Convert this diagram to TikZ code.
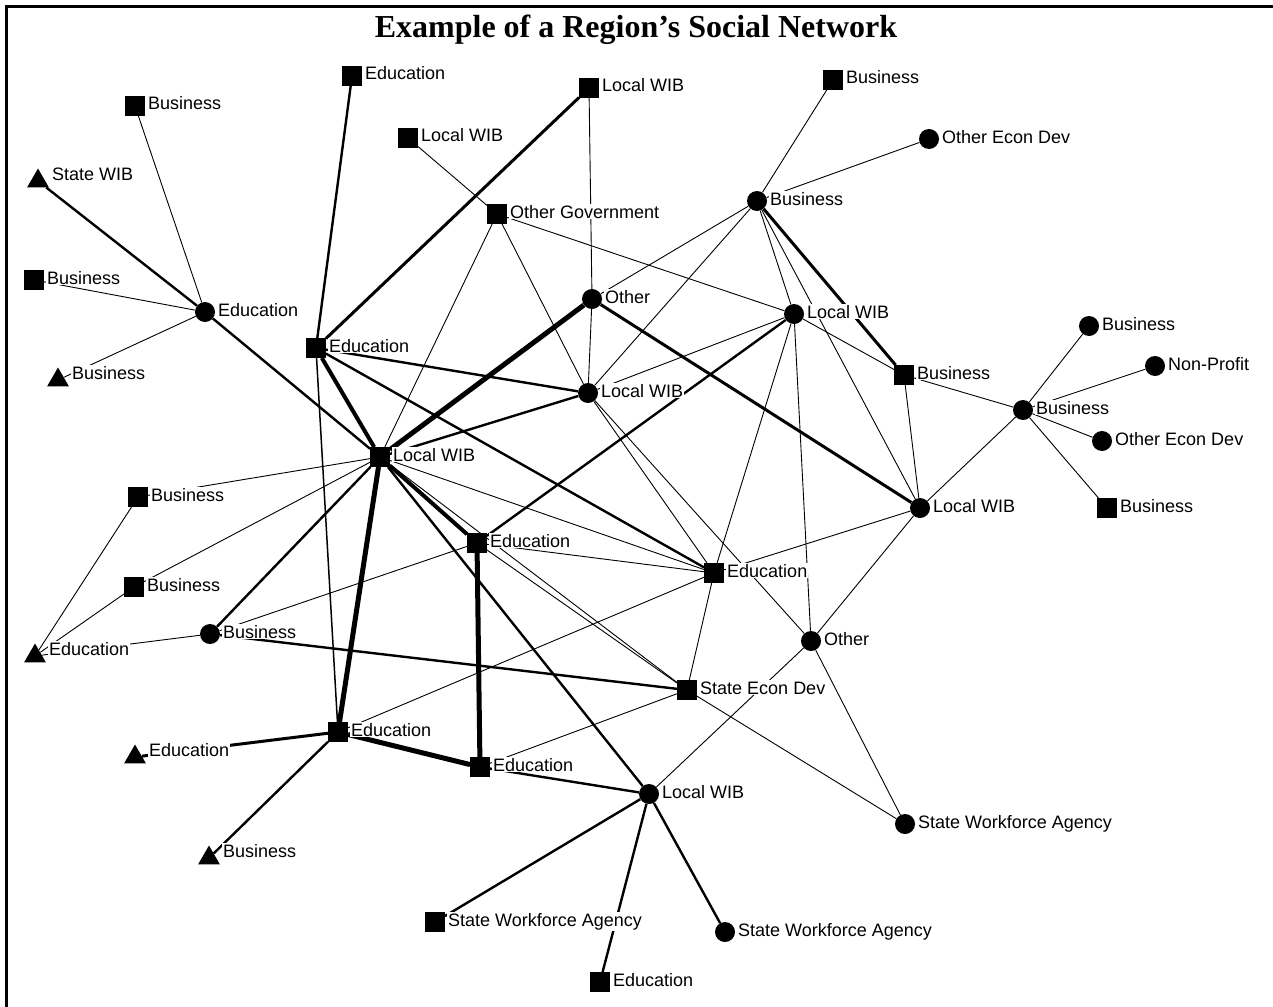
\documentclass[tikz,border=0pt]{standalone}
\usepackage{fontspec}
\setmainfont{Liberation Sans}
\newfontfamily\titlefont{Liberation Serif}
\usetikzlibrary{shapes.geometric}
\pgfdeclarelayer{paper}
\pgfdeclarelayer{edges}
\pgfsetlayers{paper,edges,main}

\tikzset{
  sq/.style={rectangle, fill=black, inner sep=0pt, minimum size=19.5pt},
  dot/.style={circle, fill=black, inner sep=0pt, minimum size=20pt},
  tri/.style={regular polygon, regular polygon sides=3, fill=black, inner sep=0pt,
              minimum size=25pt, yshift=-3pt},
  lab/.style={anchor=base west, fill=white, inner sep=1pt,
              font=\fontsize{18}{18}\selectfont},
  e1/.style={line width=0.9pt},
  e15/.style={line width=1.5pt},
  e2/.style={line width=2.4pt},
  e3/.style={line width=3pt},
  e4/.style={line width=4pt},
  e5/.style={line width=5pt},
}

% actor marker plus its white-backed name tag
\newcommand{\netnode}[5]{%
  \node[#1] (#2) at (#3,#4) {};
  \node[lab] (#2-t) at ([xshift=12pt,yshift=-4pt]#3,#4) {#5};
}
\newcommand{\trinode}[4]{%
  \node[tri] (#1) at (#2,#3) {};
  \node[lab] (#1-t) at ([xshift=13pt,yshift=-2pt]#2,#3) {#4};
}

\begin{document}
\begin{tikzpicture}[x=1pt,y=-1pt]
\useasboundingbox (0,0) rectangle (1273,1006);
\begin{pgfonlayer}{paper}
  \fill[white] (0,0) rectangle (1273,1006);
\end{pgfonlayer}

% frame
\draw[line width=2.5pt] (6.3,1020) -- (6.3,6.3) -- (1290,6.3);

% title
\node[anchor=base, inner sep=0pt, font=\titlefont\bfseries\fontsize{32}{32}\selectfont]
  (title) at (636,38) {Example of a Region’s Social Network};

% actors
\netnode{sq}{n1}{352}{76}{Education}
\netnode{sq}{n2}{589}{88}{Local WIB}
\netnode{sq}{n3}{833}{80}{Business}
\netnode{sq}{n4}{135}{106}{Business}
\netnode{sq}{n5}{408}{138}{Local WIB}
\netnode{dot}{n6}{929}{139}{Other Econ Dev}
\trinode{n7}{38}{178}{State WIB}
\netnode{dot}{n8}{757}{201}{Business}
\netnode{sq}{n9}{497}{214}{Other Government}
\netnode{sq}{n10}{34}{280}{Business}
\netnode{dot}{n11}{205}{312}{Education}
\netnode{dot}{n12}{592}{299}{Other}
\netnode{dot}{n13}{794}{314}{Local WIB}
\netnode{sq}{n14}{316}{348}{Education}
\trinode{n15}{58}{377}{Business}
\netnode{dot}{n16}{588}{393}{Local WIB}
\netnode{sq}{n17}{904}{375}{Business}
\netnode{dot}{n18}{1089}{326}{Business}
\netnode{dot}{n19}{1155}{366}{Non-Profit}
\netnode{dot}{n20}{1023}{410}{Business}
\netnode{dot}{n21}{1102}{441}{Other Econ Dev}
\netnode{sq}{n22}{380}{457}{Local WIB}
\netnode{sq}{n23}{138}{497}{Business}
\netnode{dot}{n24}{920}{508}{Local WIB}
\netnode{sq}{n25}{1107}{508}{Business}
\netnode{sq}{n26}{477}{543}{Education}
\netnode{sq}{n27}{714}{573}{Education}
\netnode{sq}{n28}{134}{587}{Business}
\netnode{dot}{n29}{210}{634}{Business}
\trinode{n30}{35}{653}{Education}
\netnode{dot}{n31}{811}{641}{Other}
\netnode{sq}{n32}{687}{690}{State Econ Dev}
\netnode{sq}{n33}{338}{732}{Education}
\trinode{n34}{135}{754}{Education}
\netnode{sq}{n35}{480}{767}{Education}
\netnode{dot}{n36}{649}{794}{Local WIB}
\netnode{dot}{n37}{905}{824}{State Workforce Agency}
\trinode{n38}{209}{855}{Business}
\netnode{sq}{n39}{435}{922}{State Workforce Agency}
\netnode{dot}{n40}{725}{932}{State Workforce Agency}
\netnode{sq}{n41}{600}{982}{Education}

% ties, drawn beneath markers and name tags
\begin{pgfonlayer}{edges}
  \draw[e2] (n1) -- (n14);
  \draw[e3] (n2) -- (n14);
  \draw[e1] (n2) -- (n12);
  \draw[e1] (n3) -- (n8);
  \draw[e1] (n4) -- (n11);
  \draw[e1] (n5) -- (n9);
  \draw[e1] (n6) -- (n8);
  \draw[e2] (n7) -- (n11);
  \draw[e1] (n10) -- (n11);
  \draw[e1] (n15) -- (n11);
  \draw[e2] (n11) -- (n22);
  \draw[e1] (n9) -- (n22);
  \draw[e1] (n9) -- (n16);
  \draw[e1] (n9) -- (n13);
  \draw[e1] (n12) -- (n16);
  \draw[e5] (n12) -- (n22);
  \draw[e3] (n12) -- (n24);
  \draw[e1] (n8) -- (n12);
  \draw[e1] (n8) -- (n16);
  \draw[e1] (n8) -- (n13);
  \draw[e1] (n8) -- (n24);
  \draw[e3] (n8) -- (n17);
  \draw[e1] (n13) -- (n17);
  \draw[e1] (n13) -- (n16);
  \draw[e2] (n13) -- (n26);
  \draw[e1] (n13) -- (n27);
  \draw[e1] (n13) -- (n31);
  \draw[e4] (n14) -- (n22);
  \draw[e2] (n14) -- (n16);
  \draw[e2] (n14) -- (n27);
  \draw[e15] (n14) -- (n33);
  \draw[e2] (n16) -- (n22);
  \draw[e1] (n16) -- (n27);
  \draw[e1] (n16) -- (n31);
  \draw[e1] (n17) -- (n20);
  \draw[e1] (n17) -- (n24);
  \draw[e1] (n18) -- (n20);
  \draw[e1] (n19) -- (n20);
  \draw[e1] (n20) -- (n21);
  \draw[e1] (n20) -- (n25);
  \draw[e1] (n20) -- (n24);
  \draw[e1] (n22) -- (n23);
  \draw[e1] (n22) -- (n28);
  \draw[e2] (n22) -- (n29);
  \draw[e4] (n22) -- (n26);
  \draw[e1] (n22) -- (n27);
  \draw[e1] (n22) -- (n32);
  \draw[e2] (n22) -- (n36);
  \draw[e5] (n22) -- (n33);
  \draw[e1] (n23) -- (n30);
  \draw[e1] (n24) -- (n27);
  \draw[e1] (n24) -- (n31);
  \draw[e1] (n26) -- (n27);
  \draw[e1] (n26) -- (n32);
  \draw[e5] (n26) -- (n35);
  \draw[e1] (n26) -- (n29);
  \draw[e1] (n27) -- (n32);
  \draw[e1] (n27) -- (n33);
  \draw[e1] (n28) -- (n30);
  \draw[e1] (n29) -- (n30);
  \draw[e2] (n29) -- (n32);
  \draw[e1] (n31) -- (n36);
  \draw[e1] (n31) -- (n37);
  \draw[e1] (n32) -- (n35);
  \draw[e1] (n32) -- (n37);
  \draw[e3] (n33) -- (n34);
  \draw[e2] (n33) -- (n38);
  \draw[e5] (n33) -- (n35);
  \draw[e2] (n35) -- (n36);
  \draw[e2] (n36) -- (n39);
  \draw[e2] (n36) -- (n41);
  \draw[e2] (n36) -- (n40);
\end{pgfonlayer}
\end{tikzpicture}
\end{document}
